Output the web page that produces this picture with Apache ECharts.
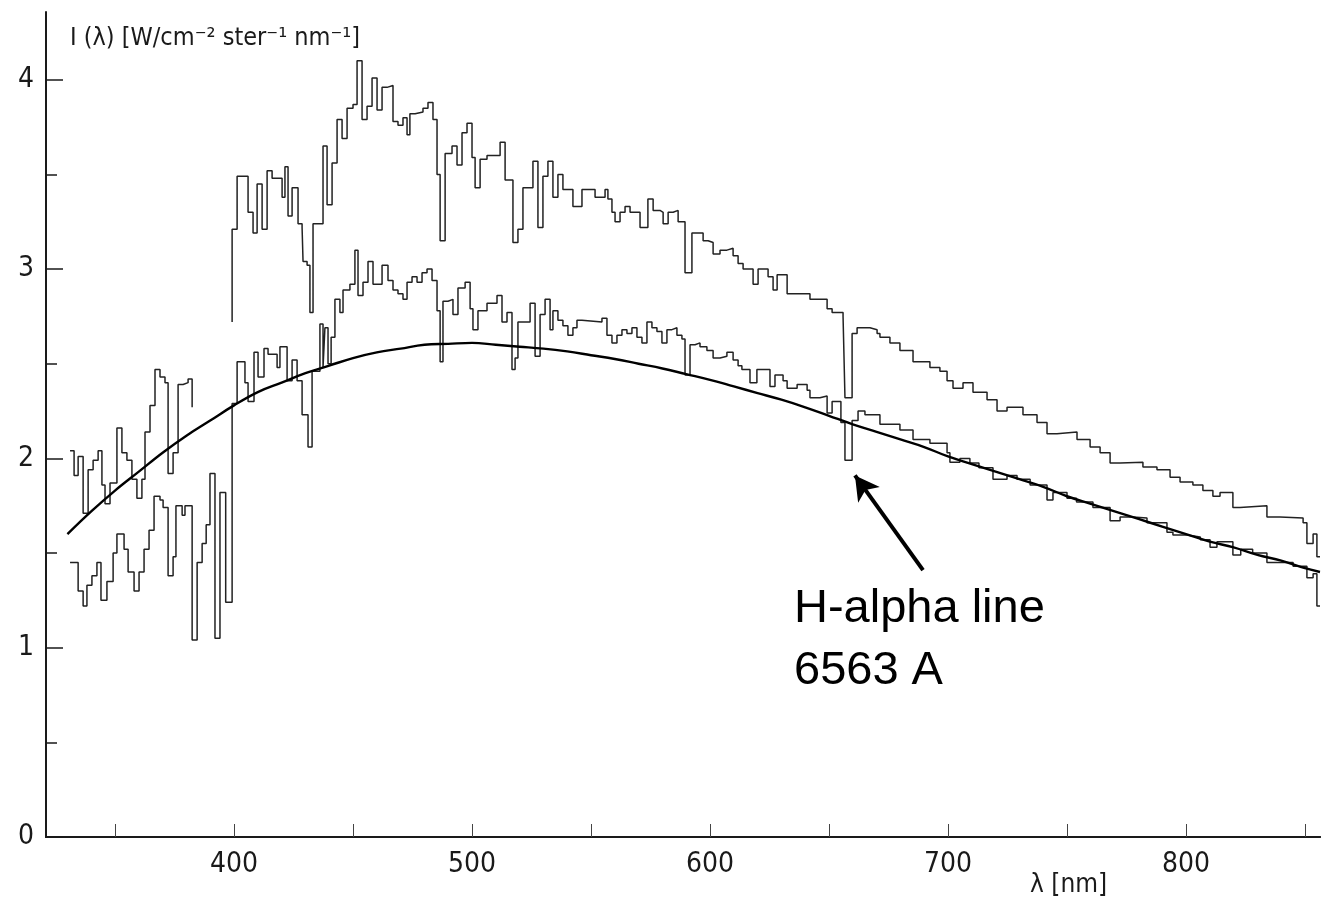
<!DOCTYPE html>
<html>
<head>
<meta charset="utf-8">
<script src="https://cdn.jsdelivr.net/npm/echarts@6/dist/echarts.min.js"></script>
<style>
  html, body { margin: 0; padding: 0; background: #fff; }
  #chart { width: 1321px; height: 903px; }
</style>
</head>
<body>
<div id="chart"></div>
<script>
// upper spectrum: short piece below ~383 nm, a gap (null), then 400 nm onwards
const upperWl = [
  331.1, 332.8, 334.5, 336.6, 338.7, 340.8, 342.9, 344.5, 345.8, 347.9,
  350.8, 352.9, 355.0, 357.1, 359.2, 361.3, 362.6, 364.7, 366.8, 368.9,
  371.0, 372.3, 374.4, 376.5, 378.6, 380.7, 382.4, 382.4,
  399.2, 399.2, 401.3, 405.9, 408.0, 409.7, 411.8, 413.9, 416.0, 420.2,
  421.4, 422.7, 424.4, 426.9, 428.6, 429.0, 430.7, 431.9, 433.2, 437.4,
  439.1, 441.2, 443.3, 445.4, 447.5, 450.0, 451.7, 453.8, 455.9, 458.0,
  460.1, 462.2, 464.3, 466.8, 468.9, 471.0, 472.7, 473.9, 476.1, 479.4,
  481.5, 483.6, 485.3, 486.6, 488.7, 491.6, 493.7, 495.8, 497.9, 500.0,
  501.3, 503.4, 506.3, 511.8, 513.9, 517.2, 519.3, 521.4, 525.6, 527.7,
  529.8, 531.9, 534.0, 536.1, 538.2, 542.4, 546.2, 551.7, 555.9, 557.1,
  558.8, 560.1, 562.2, 564.3, 566.4, 570.6, 573.9, 576.1, 579.0, 580.3,
  582.4, 584.5, 586.6, 589.5, 592.4, 597.1, 599.2, 601.3, 604.2, 607.1,
  609.7, 611.8, 613.9, 618.1, 620.2, 624.4, 626.5, 628.2, 632.4, 642.0,
  649.2, 651.3, 655.9, 656.7, 659.7, 661.8, 667.2, 670.2, 671.4, 675.6,
  679.8, 685.3, 692.4, 696.6, 699.6, 702.1, 706.3, 710.5, 716.4, 720.6,
  724.8, 731.5, 737.4, 741.6, 745.8, 754.2, 759.7, 763.9, 768.1, 772.3,
  781.9, 787.8, 793.3, 797.5, 802.9, 807.1, 811.3, 814.3, 819.7, 822.7,
  834.0, 839.5, 849.2, 850.8, 853.4, 855.0, 856.3
];
const upperVal = [
  2.04, 1.91, 2.01, 1.71, 1.94, 1.99, 2.04, 1.86, 1.76, 1.87,
  2.16, 2.03, 1.99, 1.89, 1.79, 1.89, 2.14, 2.28, 2.47, 2.43,
  2.40, 1.92, 2.03, 2.39, 2.40, 2.42, 2.27, null,
  2.72, 3.21, 3.49, 3.30, 3.19, 3.45, 3.21, 3.52, 3.48, 3.38,
  3.54, 3.28, 3.43, 3.24, 3.22, 3.04, 3.02, 2.77, 3.24, 3.65,
  3.34, 3.56, 3.79, 3.69, 3.85, 3.87, 4.10, 3.79, 3.86, 4.01,
  3.84, 3.96, 3.97, 3.78, 3.76, 3.80, 3.71, 3.82, 3.83, 3.85,
  3.88, 3.79, 3.50, 3.15, 3.61, 3.65, 3.55, 3.72, 3.77, 3.59,
  3.43, 3.58, 3.60, 3.67, 3.47, 3.14, 3.21, 3.43, 3.57, 3.22,
  3.49, 3.57, 3.38, 3.50, 3.42, 3.33, 3.42, 3.38, 3.42, 3.37,
  3.30, 3.25, 3.30, 3.33, 3.30, 3.22, 3.37, 3.31, 3.30, 3.24,
  3.30, 3.31, 3.25, 2.98, 3.19, 3.15, 3.14, 3.08, 3.10, 3.11,
  3.07, 3.03, 3.00, 2.92, 3.00, 2.96, 2.89, 2.97, 2.87, 2.84,
  2.79, 2.77, 2.75, 2.32, 2.66, 2.69, 2.68, 2.66, 2.64, 2.61,
  2.57, 2.51, 2.48, 2.46, 2.41, 2.37, 2.40, 2.35, 2.31, 2.25,
  2.27, 2.23, 2.19, 2.13, 2.14, 2.10, 2.06, 2.03, 1.975, 1.98,
  1.955, 1.94, 1.90, 1.875, 1.86, 1.83, 1.80, 1.82, 1.74, 1.75,
  1.69, 1.685, 1.66, 1.55, 1.60, 1.48, 1.48
];

// lower spectrum
const lowerWl = [
  331.1, 334.5, 336.6, 338.2, 340.3, 342.4, 344.1, 346.6, 349.2, 350.8,
  353.8, 355.5, 358.0, 360.1, 362.2, 364.3, 366.4, 368.9, 370.2, 372.3,
  374.4, 375.6, 378.2, 379.4, 382.4, 384.5, 386.6, 388.3, 389.9, 392.0,
  394.1, 396.5, 399.2, 401.3, 404.6, 405.9, 408.4, 410.1, 412.6, 414.3,
  418.1, 419.3, 422.3, 424.4, 426.5, 428.6, 431.1, 432.8, 436.1, 437.4,
  438.2, 439.5, 440.8, 442.4, 444.5, 445.8, 448.7, 450.8, 452.1, 454.2,
  456.3, 458.4, 462.2, 464.7, 466.8, 468.9, 471.0, 472.7, 474.8, 476.9,
  479.0, 481.1, 483.2, 485.3, 486.6, 487.8, 489.9, 492.0, 494.1, 497.1,
  499.2, 500.4, 502.5, 506.3, 510.5, 512.6, 514.7, 516.8, 518.1, 519.3,
  524.4, 526.5, 528.6, 530.7, 532.8, 534.0, 536.1, 538.2, 540.3, 542.4,
  544.1, 546.2, 554.6, 556.7, 558.8, 560.9, 563.0, 565.1, 567.2, 569.3,
  571.4, 573.5, 575.6, 577.7, 579.8, 581.9, 584.0, 586.1, 588.2, 589.5,
  591.6, 593.7, 595.8, 598.7, 601.3, 604.2, 607.1, 609.7, 611.8, 613.4,
  616.8, 619.7, 625.2, 627.3, 630.7, 632.4, 636.6, 640.8, 642.0, 646.2,
  649.2, 651.3, 655.0, 656.7, 659.7, 662.2, 665.1, 671.4, 679.8, 685.3,
  692.4, 699.6, 700.8, 705.0, 709.2, 713.0, 718.9, 724.8, 729.0, 734.5,
  741.6, 744.1, 750.0, 754.0, 760.9, 768.1, 772.3, 777.7, 783.6, 792.0,
  794.5, 800.4, 806.0, 810.1, 813.0, 819.7, 823.0, 828.0, 834.0, 839.5,
  845.0, 850.8, 853.4, 855.0, 856.3
];
const lowerVal = [
  1.45, 1.30, 1.22, 1.33, 1.38, 1.45, 1.25, 1.35, 1.50, 1.60,
  1.52, 1.40, 1.30, 1.40, 1.52, 1.62, 1.80, 1.78, 1.74, 1.38,
  1.48, 1.75, 1.70, 1.75, 1.04, 1.45, 1.55, 1.65, 1.92, 1.05,
  1.82, 1.24, 2.29, 2.51, 2.40, 2.30, 2.56, 2.43, 2.58, 2.55,
  2.48, 2.59, 2.41, 2.52, 2.41, 2.23, 2.06, 2.46, 2.71, 2.48,
  2.69, 2.50, 2.64, 2.84, 2.77, 2.89, 2.92, 3.10, 2.86, 2.93,
  3.04, 2.92, 3.02, 2.94, 2.89, 2.87, 2.84, 2.93, 2.96, 2.93,
  2.98, 3.00, 2.94, 2.78, 2.51, 2.83, 2.84, 2.76, 2.90, 2.93,
  2.79, 2.68, 2.78, 2.82, 2.86, 2.72, 2.77, 2.47, 2.53, 2.72,
  2.82, 2.54, 2.76, 2.84, 2.68, 2.78, 2.73, 2.70, 2.65, 2.69,
  2.73, 2.72, 2.74, 2.65, 2.61, 2.65, 2.68, 2.66, 2.69, 2.64,
  2.61, 2.72, 2.69, 2.67, 2.61, 2.68, 2.69, 2.65, 2.63, 2.44,
  2.60, 2.61, 2.59, 2.57, 2.53, 2.54, 2.56, 2.52, 2.49, 2.47,
  2.40, 2.47, 2.38, 2.44, 2.41, 2.37, 2.39, 2.36, 2.32, 2.33,
  2.24, 2.30, 2.19, 1.99, 2.20, 2.25, 2.23, 2.18, 2.15, 2.10,
  2.08, 2.03, 1.98, 2.00, 1.975, 1.95, 1.89, 1.91, 1.89, 1.86,
  1.78, 1.82, 1.79, 1.77, 1.74, 1.67, 1.69, 1.685, 1.66, 1.61,
  1.595, 1.585, 1.57, 1.53, 1.56, 1.49, 1.52, 1.50, 1.45, 1.45,
  1.43, 1.37, 1.39, 1.22, 1.22
];

// smooth fitted curve
const fitWl = [
  330, 340, 350, 360, 370, 380, 390, 400, 410, 420,
  430, 440, 450, 460, 470, 480, 490, 500, 510, 520,
  530, 540, 550, 560, 570, 580, 590, 600, 610, 620,
  630, 640, 650, 660, 670, 680, 690, 700, 710, 720,
  730, 740, 750, 760, 770, 780, 790, 800, 810, 820,
  830, 840, 850, 856.3
];
const fitVal = [
  1.60, 1.72, 1.83, 1.93, 2.03, 2.12, 2.20, 2.28, 2.35, 2.40,
  2.45, 2.49, 2.53, 2.56, 2.58, 2.60, 2.605, 2.61, 2.60, 2.59,
  2.58, 2.565, 2.545, 2.525, 2.50, 2.475, 2.445, 2.415, 2.38, 2.345,
  2.31, 2.27, 2.225, 2.18, 2.14, 2.10, 2.06, 2.01, 1.97, 1.93,
  1.89, 1.85, 1.80, 1.76, 1.72, 1.68, 1.64, 1.60, 1.56, 1.53,
  1.49, 1.46, 1.42, 1.40
];

const xTicks = [350, 400, 450, 500, 550, 600, 650, 700, 750, 800, 850];
const xLabels = [400, 500, 600, 700, 800];
const yMajor = [0, 1, 2, 3, 4];
const yMinor = [0.5, 1.5, 2.5, 3.5];

const zip = (xs, ys) => xs.map((x, i) => [x, ys[i] === null ? '-' : ys[i]]);

const axisFont = '"Liberation Sans Narrow", "DejaVu Sans Condensed", "DejaVu Sans", sans-serif';
const ink = '#1a1a1a';

const chart = echarts.init(document.getElementById('chart'), null, { renderer: 'canvas' });

const option = {
  animation: false,
  backgroundColor: '#fff',
  grid: { left: 46, right: 1, top: 12, bottom: 66, containLabel: false },
  xAxis: [
    {
      type: 'value', min: 321, max: 856.3,
      axisLine: { show: true, lineStyle: { color: ink, width: 2 } },
      axisTick: { show: true, inside: true, length: 13, customValues: xTicks, lineStyle: { color: '#444', width: 1 } },
      axisLabel: { customValues: xLabels, margin: 14, color: ink, fontSize: 28, fontFamily: axisFont },
      splitLine: { show: false }
    },
    {
      type: 'value', position: 'top', min: 321, max: 856.3,
      axisLine: { show: true, lineStyle: { color: ink, width: 2 } },
      axisTick: { show: false }, axisLabel: { show: false }, splitLine: { show: false }
    }
  ],
  yAxis: [
    {
      type: 'value', min: 0, max: 4.358,
      axisLine: { show: true, lineStyle: { color: ink, width: 2 } },
      axisTick: { show: true, inside: true, length: 17, customValues: yMajor, lineStyle: { color: ink, width: 1.5 } },
      axisLabel: { customValues: yMajor, margin: 12, color: ink, fontSize: 28, fontFamily: axisFont },
      splitLine: { show: false }
    },
    {
      type: 'value', min: 0, max: 4.358, position: 'left',
      axisLine: { show: false },
      axisTick: { show: true, inside: true, length: 11, customValues: yMinor, lineStyle: { color: ink, width: 1.5 } },
      axisLabel: { show: false }, splitLine: { show: false }
    }
  ],
  series: [
    {
      name: 'upper', type: 'line', step: 'end', data: zip(upperWl, upperVal),
      showSymbol: false, connectNulls: false,
      lineStyle: { color: '#222', width: 1.5 }
    },
    {
      name: 'lower', type: 'line', step: 'end', data: zip(lowerWl, lowerVal),
      showSymbol: false,
      lineStyle: { color: '#222', width: 1.5 }
    },
    {
      name: 'fit', type: 'line', smooth: 0.4, data: zip(fitWl, fitVal),
      showSymbol: false,
      lineStyle: { color: '#000', width: 2.4 },
      markLine: {
        silent: true,
        symbol: ['none', 'arrow'],
        symbolSize: [20, 24],
        label: { show: false },
        lineStyle: { color: '#000', width: 4, type: 'solid' },
        data: [[{ coord: [689.5, 1.41] }, { coord: [660.9, 1.91] }]]
      }
    }
  ],
  graphic: [
    {
      type: 'text', left: 70, top: 26,
      style: { text: 'I (λ) [W/cm⁻² ster⁻¹ nm⁻¹]', fill: ink, fontSize: 25, fontFamily: axisFont }
    },
    {
      type: 'text', left: 1030, top: 872,
      style: { text: 'λ [nm]', fill: ink, fontSize: 26, fontFamily: axisFont }
    },
    {
      type: 'text', left: 794, top: 578,
      style: {
        text: 'H-alpha line\n6563 A', fill: '#000', fontSize: 47, lineHeight: 62,
        fontFamily: '"Liberation Sans", Arial, sans-serif'
      }
    }
  ]
};

chart.setOption(option);
</script>
</body>
</html>
